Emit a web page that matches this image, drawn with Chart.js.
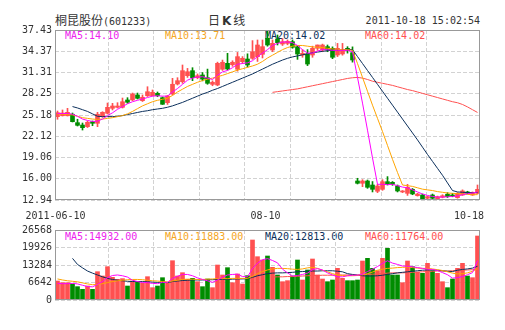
<!DOCTYPE html>
<html>
<head>
<meta charset="utf-8">
<script src="https://cdn.jsdelivr.net/npm/chart.js@4.4.1/dist/chart.umd.min.js"></script>
<style>
  body { margin: 0; width: 505px; height: 330px; overflow: hidden; position: relative; background: #fff;
         font-family: 'DejaVu Sans Mono', monospace; }
  canvas { position: absolute; left: 0; }
  #priceChart { top: 0; }
  #volChart { top: 220px; }
  .txt { position: absolute; font-size: 10px; line-height: 12px; white-space: nowrap; color: #333; }
  .cn { font-family: 'Noto Sans CJK SC', sans-serif; font-size: 12px; }
</style>
</head>
<body>
<div class="txt" style="left:55px; top:14px;"><span class="cn">桐昆股份</span>(601233)</div>
<div class="txt cn" style="left:208px; top:13px; line-height:14px;">日<b style="font-family:'DejaVu Sans'; margin:0 2px;">K</b>线</div>
<div class="txt" style="right:25px; top:15px;">2011-10-18 15:02:54</div>

<div class="txt" style="left:65px;  top:30px; color:#ee22ee;">MA5:14.10</div>
<div class="txt" style="left:165px; top:30px; color:#f5a623;">MA10:13.71</div>
<div class="txt" style="left:265px; top:30px; color:#0b2f5b;">MA20:14.02</div>
<div class="txt" style="left:365px; top:30px; color:#ff5050;">MA60:14.02</div>

<div class="txt" style="left:65px;  top:231px; color:#ee22ee;">MA5:14932.00</div>
<div class="txt" style="left:165px; top:231px; color:#f5a623;">MA10:11883.00</div>
<div class="txt" style="left:265px; top:231px; color:#0b2f5b;">MA20:12813.00</div>
<div class="txt" style="left:365px; top:231px; color:#ff5050;">MA60:11764.00</div>

<canvas id="priceChart" width="505" height="225"></canvas>
<canvas id="volChart" width="505" height="110"></canvas>

<script>
// trading days shown (85 sessions)
const dates = ['06-10','06-13','06-14','06-15','06-16','06-17','06-20','06-21','06-22','06-23','06-24','06-27','06-28','06-29','06-30',
  '07-01','07-04','07-05','07-06','07-07','07-08','07-11','07-12','07-13','07-14','07-15','07-18','07-19','07-20','07-21','07-22',
  '07-25','07-26','07-27','07-28','07-29','08-01','08-02','08-03','08-04','08-05','08-09','08-10','08-11','08-12','08-15','08-16',
  '08-17','08-18','08-19','08-22','08-23','08-24','08-25','08-26','08-29','08-30','08-31','09-01','09-02','09-05','09-06','09-07',
  '09-08','09-13','09-14','09-15','09-16','09-19','09-20','09-21','09-22','09-23','09-26','09-27','09-28','09-29','09-30','10-10',
  '10-11','10-12','10-13','10-14','10-17','10-18'];

const opens = [24.94,25.08,25.08,25.29,24.08,23.74,23.50,24.22,23.99,24.94,
  25.43,26.15,26.29,26.29,27.35,27.35,28.07,27.25,27.97,27.97,
  28.31,27.68,26.96,28.21,29.65,29.98,30.85,31.57,30.56,30.95,
  30.56,29.60,29.51,31.77,32.63,32.43,31.77,32.87,33.25,33.35,
  33.59,33.93,36.23,34.55,36.09,35.41,35.50,35.75,35.03,33.83,
  33.97,33.83,34.79,34.55,35.03,34.79,33.83,33.98,34.79,34.16,
  15.68,15.35,15.68,15.10,14.20,14.48,15.58,15.49,14.96,14.10,
  13.90,14.48,13.57,13.66,13.20,13.66,13.00,13.35,13.77,13.66,
  13.28,13.66,14.10,13.66,13.90];
const highs = [25.76,25.91,26.15,25.47,24.57,24.03,24.32,24.32,25.57,25.66,
  26.91,26.87,26.96,27.63,27.68,28.35,28.35,28.07,29.26,28.79,
  28.50,27.78,28.00,30.47,30.56,32.39,31.90,32.00,31.10,31.30,
  31.80,30.10,32.80,33.10,34.07,33.00,34.20,33.60,34.00,35.90,
  35.99,35.99,37.43,36.00,36.71,36.20,36.00,36.00,35.20,34.60,
  34.60,35.10,35.27,35.40,35.27,35.00,35.50,35.50,35.03,35.00,
  16.07,15.87,15.82,15.60,15.20,15.87,16.31,15.60,15.10,14.30,
  15.20,14.60,13.90,13.80,13.50,13.80,13.50,13.70,14.00,13.90,
  14.00,14.40,14.20,14.10,15.10];
const lows = [24.57,25.04,25.04,24.18,23.60,23.02,23.38,23.64,23.50,24.85,
  25.33,25.91,26.19,26.19,26.87,27.25,27.49,27.13,27.85,27.92,
  27.82,26.70,26.70,28.07,29.51,29.75,30.60,30.13,30.40,30.10,
  29.61,29.40,29.40,31.60,31.67,32.20,31.50,32.60,32.10,33.20,
  32.90,33.40,35.10,34.30,35.27,35.20,35.30,34.80,33.20,33.50,
  32.30,33.50,34.50,34.30,34.30,33.30,33.60,33.80,34.10,32.80,
  15.25,14.86,14.62,14.10,14.00,14.33,15.10,15.05,14.10,14.00,
  13.60,13.70,13.50,12.94,13.10,13.10,12.95,13.25,13.30,13.40,
  13.20,13.60,13.80,13.60,13.80];
const closes = [25.52,25.47,25.57,24.22,23.70,23.36,24.13,23.99,25.29,25.57,
  26.29,26.48,26.48,27.10,27.02,28.21,27.59,27.74,28.54,28.45,
  27.97,26.73,27.92,29.61,30.13,31.57,31.42,30.56,30.85,30.35,
  29.75,29.90,32.63,32.78,31.81,32.78,33.59,33.35,32.39,34.30,
  35.27,35.03,35.27,35.51,35.60,35.75,35.80,34.94,33.97,34.07,
  32.53,34.79,35.27,35.27,34.55,33.50,34.79,34.55,34.45,33.11,
  15.35,15.68,14.77,14.48,14.96,15.58,15.25,15.20,14.24,14.24,
  14.77,13.81,13.80,13.00,13.42,13.19,13.42,13.55,13.42,13.52,
  13.90,14.24,13.90,14.05,14.48];

const ma5 = [25.4,25.4,25.4,25.3,25.0,24.6,24.4,24.25,24.3,24.6,
  25.1,25.5,26.0,26.4,26.8,27.1,27.3,27.5,27.7,27.9,
  27.95,27.9,27.9,28.5,29.0,29.6,30.2,30.5,30.65,30.7,
  30.5,30.3,30.9,31.4,31.6,32.0,32.5,32.6,32.7,33.0,
  33.6,34.1,34.6,35.2,35.5,35.7,35.7,35.6,35.2,34.6,
  34.1,34.1,34.4,34.6,34.6,34.5,34.5,34.5,34.5,34.3,
  30.6,26.9,23.0,19.0,15.2,15.2,15.15,15.2,15.0,14.8,
  14.7,14.4,14.1,13.8,13.6,13.45,13.35,13.35,13.4,13.45,
  13.5,13.7,13.85,13.95,14.10];
const ma10 = [25.35,25.3,25.25,25.2,25.0,24.8,24.7,24.6,24.55,24.6,
  24.7,24.8,24.95,25.1,25.35,25.7,26.1,26.5,26.8,27.1,
  27.3,27.45,27.6,28.0,28.5,28.9,29.3,29.6,29.9,30.15,
  30.35,30.5,30.7,30.9,31.15,31.4,31.65,31.85,32.05,32.25,
  32.5,32.9,33.4,33.8,34.2,34.6,34.9,35.1,35.2,35.2,
  35.1,35.0,34.95,34.9,34.8,34.7,34.65,34.6,34.6,34.5,
  32.6,30.6,28.6,26.6,24.7,22.8,20.8,18.8,16.9,15.1,
  15.0,14.9,14.7,14.5,14.4,14.3,14.15,14.05,13.95,13.9,
  13.85,13.8,13.75,13.7,13.71];
const ma20 = [null,null,null,26.4,26.2,25.95,25.7,25.35,25.0,24.95,
  24.95,24.95,25.0,25.1,25.25,25.4,25.55,25.7,25.8,25.95,
  26.05,26.15,26.3,26.5,26.75,27.0,27.3,27.6,27.9,28.2,
  28.45,28.75,29.0,29.3,29.6,29.9,30.2,30.5,30.8,31.1,
  31.45,31.8,32.15,32.5,32.8,33.1,33.35,33.55,33.7,33.85,
  34.0,34.15,34.25,34.35,34.45,34.5,34.55,34.6,34.65,34.6,
  33.6,32.6,31.6,30.6,29.6,28.6,27.6,26.6,25.6,24.6,
  23.6,22.6,21.6,20.55,19.5,18.5,17.5,16.5,15.4,14.3,
  14.1,14.05,14.0,14.0,14.02];
const ma60 = [null,null,null,null,null,null,null,null,null,null,
  null,null,null,null,null,null,null,null,null,null,
  null,null,null,null,null,null,null,null,null,null,
  null,null,null,null,null,null,null,null,null,null,
  null,null,null,28.45,28.55,28.65,28.75,28.85,28.95,29.1,
  29.25,29.4,29.55,29.7,29.85,30.0,30.15,30.3,30.45,30.55,
  30.6,30.5,30.3,30.05,29.9,29.75,29.6,29.45,29.25,29.05,
  28.85,28.7,28.5,28.3,28.1,27.9,27.7,27.5,27.3,27.1,
  26.95,26.7,26.35,25.95,25.55];

const volumes = [7210,6570,6570,6070,5060,4050,5310,4050,10750,9110,
  12650,8600,7840,8100,5310,7210,6700,6320,8850,4680,
  5310,8470,6320,14920,9110,10370,7840,8220,6950,5060,
  7970,4680,13280,9490,12270,6570,9870,6070,9240,22770,
  16440,15180,16700,12400,9490,6950,7340,9110,15180,7590,
  11390,15560,9490,7970,6950,7590,12020,8220,7340,7340,
  7590,14800,15810,12020,11130,15810,19610,9490,9490,6570,
  14800,12650,10500,10120,13910,11130,10120,6950,4680,7970,
  12020,13910,9110,8470,24290];
const volMa5 = [6300,6200,6200,6300,6100,5600,5100,5000,5900,7000,
  8500,9300,9500,9200,8700,7500,7000,6600,6600,6300,
  6200,6700,6700,8200,9000,9700,9700,9200,8400,7800,
  7300,6700,7600,8600,9500,9700,9800,8900,8800,11900,
  14000,15300,15700,15000,14100,11700,10300,9100,9300,9700,
  10200,11500,11900,11400,10300,9500,8800,8800,9200,9400,
  9400,9800,10800,11700,12700,13900,14900,14000,13500,12900,
  12800,12600,12300,12000,11700,11600,11200,10400,9600,8300,
  8500,8900,9600,10400,14932];
const volMa10 = [8000,7600,7300,7100,6900,6500,6100,5800,5900,6200,
  6600,7000,7300,7500,7700,7800,7800,7700,7500,7300,
  7200,7000,6900,7200,7500,7800,7900,7900,7800,7800,
  7900,8000,8100,8100,8100,8200,8200,8200,8200,9000,
  10000,10800,11400,11800,12000,12000,11900,11700,11600,11800,
  12200,12400,12000,11300,10700,10000,9500,9300,9200,9200,
  9300,9600,10000,10600,11300,11700,12000,12100,12300,12400,
  12500,12300,12100,12000,12000,11800,11500,11200,10700,10200,
  9900,10000,10300,10900,11883];
const volMa20 = [null,null,null,15800,13500,12200,11000,10200,9500,8800,
  8200,7800,7500,7300,7100,7000,7000,7000,6900,6800,
  6700,6700,6600,7000,7200,7400,7500,7600,7600,7600,
  7700,7700,7800,7800,7800,7900,8000,8000,8100,8600,
  9200,9600,10000,10200,10300,10300,10400,10500,10700,10800,
  10900,11000,11000,11100,11100,11100,10900,10700,10000,9700,
  9400,9200,9100,9100,9200,9400,9700,10000,10300,10500,
  10700,10900,11100,11300,11400,11400,11300,11100,10900,10800,
  11300,11600,11800,12100,12813];
const volMa60 = [null,null,null,null,null,null,null,null,null,null,
  null,null,null,null,null,null,null,null,null,null,
  null,null,null,null,null,null,null,null,null,null,
  null,null,null,null,null,null,null,null,null,null,
  null,null,null,8700,8800,8800,8900,8900,9000,9100,
  9200,9300,9300,9400,9400,9400,9500,9500,9500,9500,
  9500,9600,9700,9800,9900,10000,10200,10300,10300,10300,
  10400,10500,10600,10700,10800,10900,11000,11000,11000,11100,
  11200,11300,11400,11500,11764];

const priceTicks = [12.94, 16.00, 19.06, 22.12, 25.18, 28.25, 31.31, 34.37, 37.43];
const priceTickText = ['12.94','16.00','19.06','22.12','25.18','28.25','31.31','34.37','37.43'];
const volTicks = [0, 6642, 13284, 19926, 26568];
const dateTickIndex = [0, 42, 84];
const dateTickText = ['2011-06-10', '08-10', '10-18'];

const UP = '#ff5050';
const DOWN = '#008c00';
const C_MA5 = '#ff00ff', C_MA10 = '#ffa500', C_MA20 = '#0b2f5b', C_MA60 = '#ff5050';
const GRID = '#d2d2d2';
const TICK_FONT = { family: "'DejaVu Sans Mono'", size: 10 };

const candleColors = closes.map((c, i) => c >= opens[i] ? UP : DOWN);

const frame = {
  id: 'frame',
  afterDatasetsDraw(chart) {
    const { ctx, chartArea: a } = chart;
    ctx.save();
    ctx.strokeStyle = '#999';
    ctx.lineWidth = 1;
    ctx.strokeRect(a.left + 0.5, a.top + 0.5, a.width - 1, a.height - 1);
    ctx.restore();
  }
};

const dateLabels = {
  id: 'dateLabels',
  afterDraw(chart) {
    const { ctx, chartArea: a } = chart;
    const xs = chart.scales.x;
    ctx.save();
    ctx.font = "10px 'DejaVu Sans Mono'";
    ctx.fillStyle = '#333';
    ctx.textBaseline = 'middle';
    dateTickIndex.forEach((idx, k) => {
      const last = k === dateTickIndex.length - 1;
      ctx.textAlign = last ? 'right' : 'center';
      const x = last ? a.right + 4 : xs.getPixelForValue(idx) - 2;
      ctx.fillText(dateTickText[k], x, a.bottom + 16);
    });
    ctx.restore();
  }
};

function lineSet(data, color) {
  return { type: 'line', data: data, borderColor: color, borderWidth: 1, pointRadius: 0,
           tension: 0, fill: false, spanGaps: false, order: 0, xAxisID: 'x' };
}

function vGrid() {
  return {
    type: 'linear', position: 'bottom', min: 0, max: 8,
    afterBuildTicks: s => { s.ticks = [1, 2, 3, 4, 5, 6, 7].map(v => ({ value: v })); },
    afterFit: s => { s.height = 0; },
    ticks: { display: false },
    grid: { color: GRID, drawTicks: false },
    border: { display: false, dash: [4, 2] }
  };
}

new Chart(document.getElementById('priceChart'), {
  type: 'bar',
  data: {
    labels: dates,
    datasets: [
      lineSet(ma5, C_MA5),
      lineSet(ma10, C_MA10),
      lineSet(ma20, C_MA20),
      lineSet(ma60, C_MA60),
      { data: lows.map((l, i) => [l, highs[i]]), backgroundColor: candleColors,
        barThickness: 1, grouped: false, order: 2, xAxisID: 'x' },
      { data: opens.map((o, i) => [o, closes[i]]), backgroundColor: candleColors,
        barThickness: 4, minBarLength: 1, grouped: false, order: 1, xAxisID: 'x' }
    ]
  },
  options: {
    responsive: false,
    animation: false,
    layout: { padding: { top: 30, right: 25, bottom: 25, left: 0 } },
    plugins: { legend: { display: false }, tooltip: { enabled: false } },
    scales: {
      x: { type: 'category', offset: true, display: false },
      xg: vGrid(),
      y: {
        min: 12.94, max: 37.43,
        afterBuildTicks: s => { s.ticks = priceTicks.map(v => ({ value: v })); },
        afterFit: s => { s.width = 55; },
        ticks: { callback: (v, i) => priceTickText[i], color: '#333', font: TICK_FONT, padding: 3 },
        grid: { color: GRID, drawTicks: false },
        border: { display: false, dash: [4, 2] }
      }
    }
  },
  plugins: [frame, dateLabels]
});

new Chart(document.getElementById('volChart'), {
  type: 'bar',
  data: {
    labels: dates,
    datasets: [
      lineSet(volMa5, C_MA5),
      lineSet(volMa10, C_MA10),
      lineSet(volMa20, C_MA20),
      lineSet(volMa60, C_MA60),
      { data: volumes, backgroundColor: candleColors, barThickness: 4, grouped: false, order: 1, xAxisID: 'x' }
    ]
  },
  options: {
    responsive: false,
    animation: false,
    layout: { padding: { top: 10, right: 25, bottom: 30, left: 0 } },
    plugins: { legend: { display: false }, tooltip: { enabled: false } },
    scales: {
      x: { type: 'category', offset: true, display: false },
      xg: vGrid(),
      y: {
        min: 0, max: 26568,
        afterBuildTicks: s => { s.ticks = volTicks.map(v => ({ value: v })); },
        afterFit: s => { s.width = 55; },
        ticks: { callback: v => String(v), color: '#333', font: TICK_FONT, padding: 3 },
        grid: { color: GRID, drawTicks: false },
        border: { display: false, dash: [4, 2] }
      }
    }
  },
  plugins: [frame]
});
</script>
</body>
</html>
